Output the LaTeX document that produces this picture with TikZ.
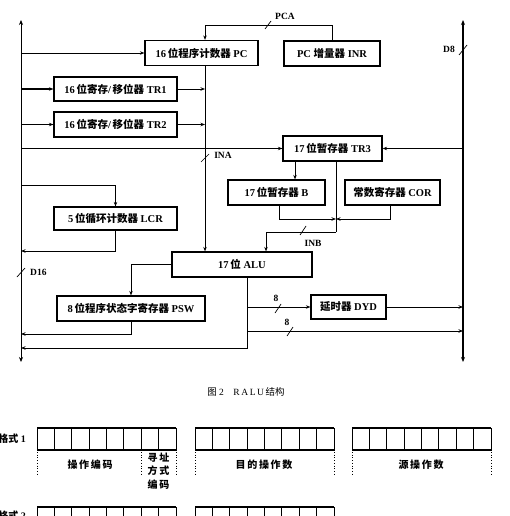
\documentclass[tikz,border=0pt]{standalone}
\usepackage{fontspec}
\setmainfont{Liberation Serif}
\newfontfamily\cjk{Noto Sans CJK SC}
\usetikzlibrary{arrows.meta}
\newcommand\zh[1]{{\cjk #1}}
\begin{document}
\begin{tikzpicture}[x=1pt,y=-1pt,
  box/.style={draw, line width=1.2pt, minimum height=25pt, inner sep=0pt, font=\fontsize{10.5}{12}\selectfont\bfseries},
  line/.style={line width=0.7pt},
  arr/.style={line, -{Stealth[length=4.5pt,width=3.5pt]}},
  thickbus/.style={line width=1.6pt},
  lab/.style={font=\fontsize{9.5}{10}\selectfont\bfseries, inner sep=1pt},
  cell/.style={line width=0.8pt},
  dotl/.style={line width=0.7pt, dotted},
  fmt/.style={font=\fontsize{10}{11}\selectfont\bfseries, inner sep=0pt, align=center}
]
\useasboundingbox (0,0) rectangle (509,516);

% boxes
\node[box, minimum width=113pt] (PC) at (201.5,53) {16\,\zh{位程序计数器} PC};
\node[box, minimum width=96pt] (INR) at (332,53.5) {PC \zh{增量器} INR};
\node[box, minimum width=123pt, minimum height=24pt] (TR1) at (115.5,89) {16\,\zh{位寄存}/\,\zh{移位器} TR1};
\node[box, minimum width=123pt, minimum height=25pt] (TR2) at (115.5,124.5) {16\,\zh{位寄存}/\,\zh{移位器} TR2};
\node[box, minimum width=99pt] (TR3) at (332.5,148.5) {17\,\zh{位暂存器} TR3};
\node[box, minimum width=97pt] (B) at (276.5,192.5) {17\,\zh{位暂存器} B};
\node[box, minimum width=95pt] (COR) at (392.5,192.5) {\zh{常数寄存器} COR};
\node[box, minimum width=123pt, minimum height=23pt] (LCR) at (115.5,218.5) {5\,\zh{位循环计数器} LCR};
\node[box, minimum width=140pt] (ALU) at (242,264.5) {17\,\zh{位} ALU};
\node[box, minimum width=148pt] (PSW) at (131,308.5) {8\,\zh{位程序状态字寄存器} PSW};
\node[box, minimum width=75pt, minimum height=24pt] (DYD) at (348.5,307) {\zh{延时器} DYD};

% buses
\coordinate (Ltop) at (21,20);
\coordinate (Lbot) at (21,362);
\coordinate (Rtop) at (463,20);
\coordinate (Rbot) at (463,362);
\draw[line, {Stealth[length=5pt,width=4pt]}-{Stealth[length=5pt,width=4pt]}] (Lbot) -- (Ltop);
\draw[thickbus, {Stealth[length=5pt,width=4pt]}-{Stealth[length=5pt,width=4pt]}] (Rbot) -- (Rtop);

% PCA
\coordinate (pa) at (205,25);
\coordinate (pb) at (332,25);
\draw[arr] (INR.north -| pb) -- (pb) -- (pa) -- (PC.north -| pa);
\draw[line] (265,29) -- (271,21);
\node[lab] (PCA) at (285,16) {PCA};

% left bus to registers
\draw[arr] (Ltop |- PC.west) -- (PC.west);
\draw[arr, line width=1.2pt] (Ltop |- TR1.west) -- (TR1.west);
\draw[arr] (Ltop |- TR2.west) -- (TR2.west);
\draw[arr, thickbus] (Ltop |- TR3.west) -- (TR3.west);

% INA
\coordinate (ina) at (205,0);
\draw[arr] (PC.south -| ina) -- (ALU.north -| ina);
\draw[arr] (TR1.east) -- (TR1.east -| ina);
\draw[arr] (TR2.east) -- (TR2.east -| ina);
\draw[line] (201,162) -- (209,154);
\node[lab] (INA) at (223,155) {INA};

% TR3 and right bus
\draw[arr] (Rtop |- TR3.east) -- (TR3.east);
\coordinate (tb) at (295,0);
\draw[arr] (TR3.south -| tb) -- (B.north -| tb);
\coordinate (J) at (336,232);
\draw[line] (TR3.south -| J) -- (J);
\coordinate (bx) at (279,219);
\draw[arr] (B.south -| bx) -- (bx) -- (J |- bx);
\coordinate (cx) at (390,219);
\draw[arr] (COR.south -| cx) -- (cx) -- (J |- cx);
\coordinate (inb) at (266,232);
\draw[arr] (J) -- (inb) -- (ALU.north -| inb);
\draw[line] (300,235) -- (306,226);
\node[lab] (INB) at (313,243) {INB};

% LCR
\coordinate (lc) at (115.5,185);
\draw[arr] (Ltop |- lc) -- (lc) -- (LCR.north);
\coordinate (lcb) at (115.5,251);
\draw[arr] (LCR.south) -- (lcb) -- (Ltop |- lcb);

% D16, D8
\draw[line] (17,277) -- (25,268);
\node[lab, anchor=west] (D16) at (29,272) {D16};
\draw[line] (459,55) -- (467,45);
\node[lab, anchor=east] (D8) at (456,49) {D8};

% ALU outputs
\draw[arr] (ALU.west) -- (ALU.west -| PSW.north) -- (PSW.north);
\coordinate (pswb) at (131,334);
\draw[arr] (PSW.south) -- (pswb) -- (Ltop |- pswb);
\coordinate (alub) at (247,348);
\draw[arr] (ALU.south -| alub) -- (alub) -- (Ltop |- alub);
\coordinate (d1) at (247,307);
\draw[arr] (d1) -- (DYD.west);
\coordinate (d2) at (247,331);
\draw[arr] (d2) -- (Rtop |- d2);
\draw[arr] (DYD.east) -- (Rtop |- DYD.east);
\draw[line] (275,313) -- (281,304);
\node[lab] (n8a) at (276,298) {8};
\draw[line] (287,336) -- (293,327);
\node[lab] (n8b) at (287,322) {8};

% caption
\node[font=\fontsize{9.5}{11}\selectfont, inner sep=0pt] (cap) at (246,392) {\zh{图}\ 2\quad R\,A\,L\,U\,\zh{结构}};

% instruction format row 1
\foreach \gx in {37,195,352} {
  \foreach \i in {0,...,7} {
    \draw[cell] (\gx+\i*17.375,428) rectangle ++(17.375,22);
  }
}
\draw[line width=1.1pt] (37,428) -- (176,428) (195,428) -- (334,428) (352,428) -- (491,428);
\draw[line width=1.1pt] (37,450) -- (176,450) (195,450) -- (334,450) (352,450) -- (491,450);
\foreach \x in {37,141.25,176,195,334,352,491} {
  \draw[dotl] (\x,452) -- (\x,474);
}
\node[fmt, anchor=east] (f1) at (26,439) {\zh{格式}\ 1};
\node[fmt] (op) at (90,465) {\zh{操\,作\,编\,码}};
\node[fmt, font=\fontsize{10}{13.5}\selectfont\bfseries] (am) at (158.5,471) {\zh{寻\,址}\\\zh{方\,式}\\\zh{编\,码}};
\node[fmt] (dst) at (264,465) {\zh{目\,的\,操\,作\,数}};
\node[fmt] (src) at (421,465) {\zh{源\,操\,作\,数}};

% instruction format row 2
\foreach \gx in {37,195} {
  \foreach \i in {0,...,7} {
    \draw[cell] (\gx+\i*17.375,507) rectangle ++(17.375,22);
  }
}
\draw[line width=1.1pt] (37,507) -- (176,507) (195,507) -- (334,507);
\node[fmt, anchor=east] (f2) at (26,516) {\zh{格式}\ 2};
\end{tikzpicture}
\end{document}
